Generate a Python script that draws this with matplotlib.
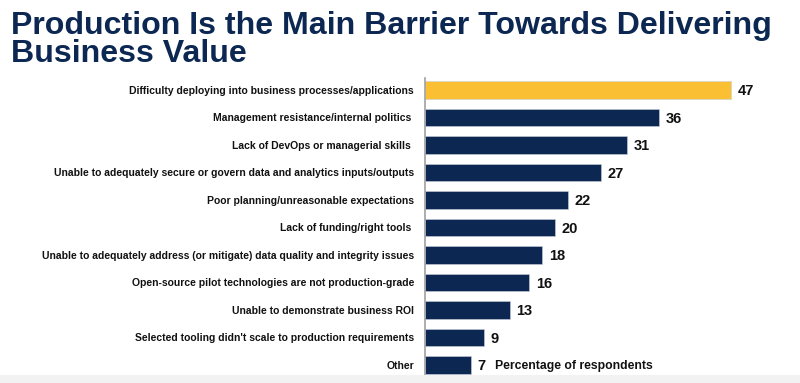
import matplotlib
matplotlib.use("Agg")
import matplotlib.pyplot as plt
from matplotlib.patches import Rectangle

# data, top to bottom
reasons = [
    "Difficulty deploying into business processes/applications",
    "Management resistance/internal politics ",
    "Lack of DevOps or managerial skills ",
    "Unable to adequately secure or govern data and analytics inputs/outputs",
    "Poor planning/unreasonable expectations",
    "Lack of funding/right tools ",
    "Unable to adequately address (or mitigate) data quality and integrity issues",
    "Open-source pilot technologies are not production-grade",
    "Unable to demonstrate business ROI",
    "Selected tooling didn't scale to production requirements",
    "Other",
]
percentages = [47, 36, 31, 27, 22, 20, 18, 16, 13, 9, 7]
highlight = 0

NAVY = "#0c2852"
GOLD = "#fbbf34"

plt.rcParams["font.family"] = ["Liberation Sans", "DejaVu Sans"]

fig = plt.figure(figsize=(8, 3.83), dpi=100)

# faint grey band at the very bottom of the slide
fig.patches.append(Rectangle((0, 0), 1, 8 / 383, transform=fig.transFigure,
                             facecolor="#f2f2f2", edgecolor="none", zorder=0))

ax = fig.add_axes([425 / 800, 1 - 378 / 383, 375 / 800, 300 / 383])
ax.patch.set_alpha(0)

colors = [GOLD if i == highlight else NAVY for i in range(len(percentages))]
ypos = list(range(len(percentages)))
ax.barh(ypos, percentages, height=0.62, color=colors, edgecolor="#c8d0dc", linewidth=0.4)

for y, v in zip(ypos, percentages):
    ax.text(v + 1.0, y, str(v), va="center_baseline", ha="left", fontsize=10.5,
            fontweight="bold", color="#111111")

ax.text(percentages[-1] + 3.7, ypos[-1], "Percentage of respondents", va="center_baseline",
        ha="left", fontsize=8.8, fontweight="bold", color="#111111")

ax.set_xlim(0, 57.6)
ax.set_ylim(10.473, -0.436)
ax.set_yticks(ypos)
ax.set_yticklabels(reasons, fontsize=7.5, fontweight="bold", color="#111111")
ax.tick_params(axis="y", length=0, pad=8)
ax.set_xticks([])
for s in ["top", "right", "bottom"]:
    ax.spines[s].set_visible(False)
ax.spines["left"].set_color("#a0a0a0")
ax.spines["left"].set_linewidth(1.2)

fig.text(0.014, 0.972, "Production Is the Main Barrier Towards Delivering\nBusiness Value",
         ha="left", va="top", fontsize=23.1, fontweight="bold", color="#0c2852",
         family=["Liberation Sans Narrow", "Liberation Sans", "DejaVu Sans"],
         linespacing=0.93)

fig.savefig("out.png", dpi=100)
